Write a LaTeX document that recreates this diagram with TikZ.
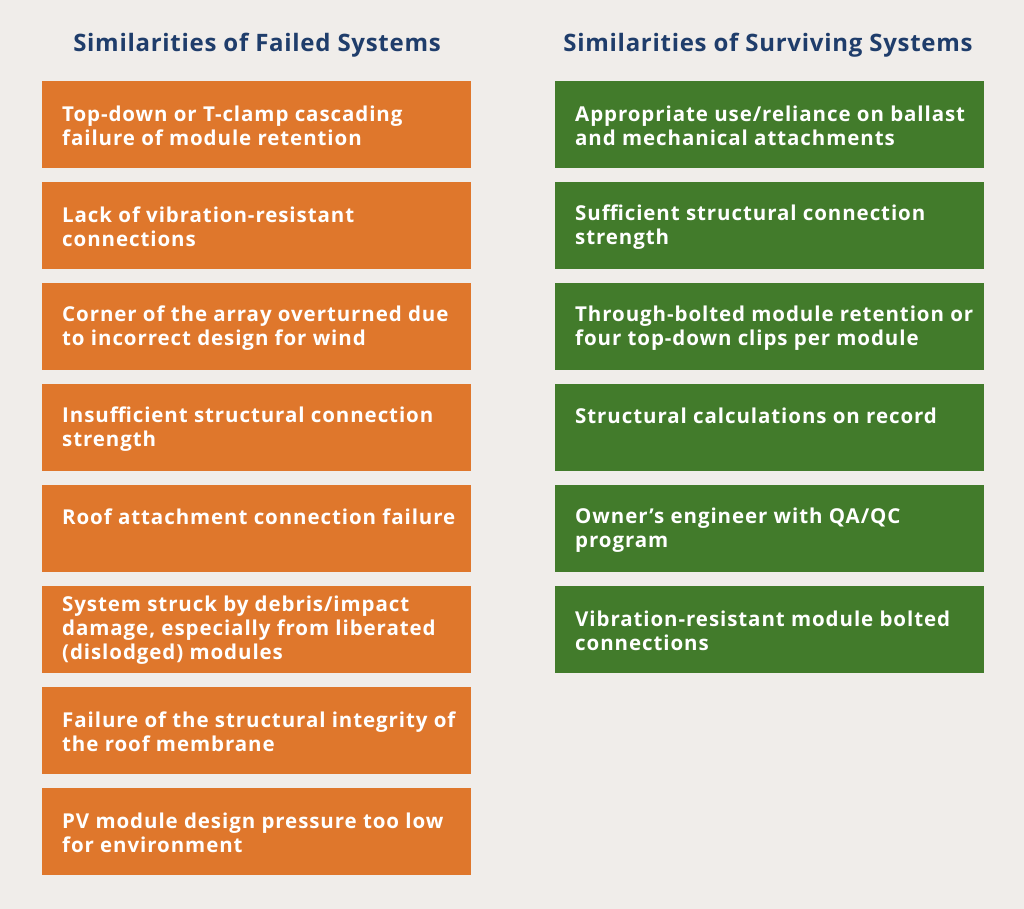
\documentclass[tikz,border=0pt]{standalone}
\usepackage{fontspec}
\setmainfont{Open Sans}
\definecolor{bg}{HTML}{F0EDEA}
\definecolor{orng}{HTML}{DF772C}
\definecolor{grn}{HTML}{427B2B}
\definecolor{navy}{HTML}{1F3D6B}
\tikzset{
  boxo/.style={fill=orng, draw=none, minimum width=429pt, minimum height=87pt, anchor=north west, inner sep=0pt},
  boxg/.style={fill=grn, draw=none, minimum width=429pt, minimum height=87pt, anchor=north west, inner sep=0pt},
  txt/.style={text=white, anchor=west, align=left, inner sep=0pt, font=\fontsize{20.5}{24}\selectfont\bfseries\addfontfeatures{LetterSpace=4.5}},
  ttl/.style={text=navy, inner sep=0pt, font=\fontsize{24}{28}\selectfont\bfseries\addfontfeatures{LetterSpace=3}}
}
\begin{document}
\begin{tikzpicture}[x=1pt,y=-1pt]
\fill[bg] (0,0) rectangle (1024,909);
\useasboundingbox (0,0) rectangle (1024,909);
\node[ttl] (t1) at (257,45) {Similarities of Failed Systems};
\node[ttl] (t2) at (768,45) {Similarities of Surviving Systems};
% left
\node[boxo] (l1) at (42,81) {};
\node[txt] (lt1) at (62,126) {Top-down or T-clamp cascading\\failure of module retention};
\node[boxo] (l2) at (42,182) {};
\node[txt] (lt2) at (62,227) {Lack of vibration-resistant\\connections};
\node[boxo] (l3) at (42,283) {};
\node[txt] (lt3) at (62,328) {Corner of the array overturned due\\to incorrect design for wind};
\node[boxo] (l4) at (42,384) {};
\node[txt] (lt4) at (62,429) {Insufficient structural connection\\strength};
\node[boxo] (l5) at (42,485) {};
\node[txt] (lt5) at (62,517) {Roof attachment connection failure};
\node[boxo] (l6) at (42,586) {};
\node[txt] (lt6) at (62,630) {System struck by debris/impact\\damage, especially from liberated\\(dislodged) modules};
\node[boxo] (l7) at (42,687) {};
\node[txt] (lt7) at (62,732) {Failure of the structural integrity of\\the roof membrane};
\node[boxo] (l8) at (42,788) {};
\node[txt] (lt8) at (62,833) {PV module design pressure too low\\for environment};
% right
\node[boxg] (r1) at (555,81) {};
\node[txt] (rt1) at (575,126) {Appropriate use/reliance on ballast\\and mechanical attachments};
\node[boxg] (r2) at (555,182) {};
\node[txt] (rt2) at (575,227) {Sufficient structural connection\\strength};
\node[boxg] (r3) at (555,283) {};
\node[txt] (rt3) at (575,328) {Through-bolted module retention or\\four top-down clips per module};
\node[boxg] (r4) at (555,384) {};
\node[txt] (rt4) at (575,416) {Structural calculations on record};
\node[boxg] (r5) at (555,485) {};
\node[txt] (rt5) at (575,530) {Owner’s engineer with QA/QC\\program};
\node[boxg] (r6) at (555,586) {};
\node[txt] (rt6) at (575,631) {Vibration-resistant module bolted\\connections};
\end{tikzpicture}
\end{document}
